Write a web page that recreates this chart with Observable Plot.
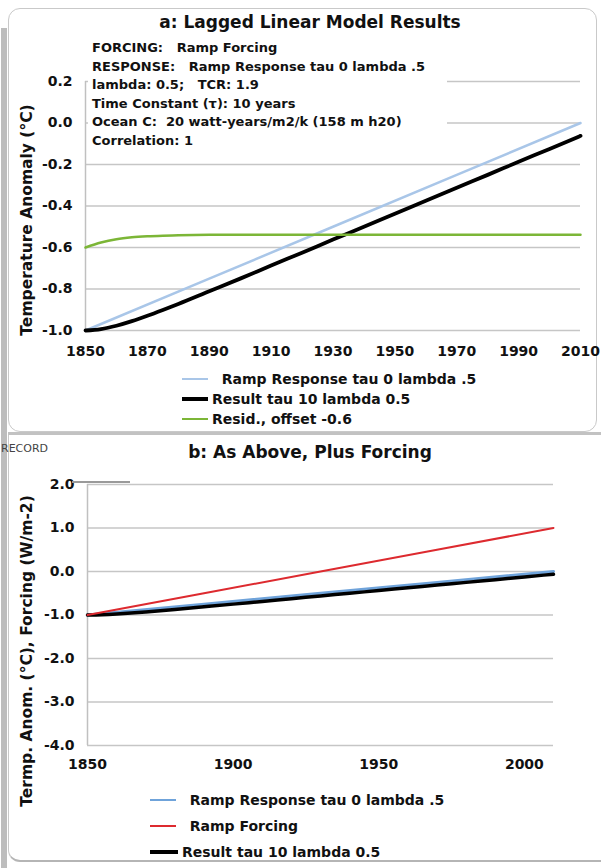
<!DOCTYPE html>
<html>
<head>
<meta charset="utf-8">
<script src="https://cdn.jsdelivr.net/npm/d3@7"></script>
<script src="https://cdn.jsdelivr.net/npm/@observablehq/plot@0.6"></script>
<style>
  html, body { margin: 0; padding: 0; background: #fff; }
  #wrap { position: relative; width: 601px; height: 868px; overflow: hidden; font-family: "DejaVu Sans", Verdana, sans-serif; color: #111; }
  .abs { position: absolute; }
  .title { font-weight: bold; font-size: 17px; text-align: center; line-height: 22px; }
  .box { background: #fff; font-weight: bold; font-size: 13px; line-height: 18.5px; white-space: pre; padding: 0 22px 0 4px; }
  .leg { display: flex; align-items: center; height: 18px; font-weight: bold; font-size: 14px; white-space: pre; }
  .sw { display: inline-block; margin-right: 4px; }
</style>
</head>
<body>
<div id="wrap"></div>
<script>
// ---------- data ----------
const yearsLine = [1850, 1890, 1930, 1970, 2010];
const rampResponse = [-1.0, -0.75, -0.5, -0.25, 0.0];
const rampForcing = [-1.0, -0.5, 0.0, 0.5, 1.0];

const yearsCurve = [1850, 1855, 1860, 1865, 1870, 1875, 1880, 1890, 1900, 1910, 1920, 1930, 1940, 1950, 1960, 1970, 1980, 1990, 2000, 2010];
const resultTau10 = [-1.0, -0.993, -0.977, -0.955, -0.929, -0.901, -0.872, -0.811, -0.75, -0.687, -0.625, -0.562, -0.5, -0.437, -0.375, -0.312, -0.25, -0.187, -0.125, -0.062];
const residOffset = [-0.6, -0.576, -0.560, -0.551, -0.546, -0.543, -0.541, -0.539, -0.538, -0.538, -0.538, -0.538, -0.538, -0.538, -0.538, -0.538, -0.538, -0.538, -0.538, -0.538];

const xTicksA = [1850, 1870, 1890, 1910, 1930, 1950, 1970, 1990, 2010];
const yTicksA = [-1.0, -0.8, -0.6, -0.4, -0.2, 0.0, 0.2];
const xTicksB = [1850, 1900, 1950, 2000];
const yTicksB = [-4, -3, -2, -1, 0, 1, 2];

const titleA = "a: Lagged Linear Model Results";
const titleB = "b: As Above, Plus Forcing";
const yLabelA = "Temperature Anomaly (°C)";
const yLabelB = "Termp. Anom. (°C), Forcing (W/m-2)";
const infoLines = [
  "FORCING:   Ramp Forcing",
  "RESPONSE:   Ramp Response tau 0 lambda .5",
  "lambda: 0.5;   TCR: 1.9",
  "Time Constant (τ): 10 years",
  "Ocean C:  20 watt-years/m2/k (158 m h20)",
  "Correlation: 1"
];
const legendA = ["  Ramp Response tau 0 lambda .5", "Result tau 10 lambda 0.5", "Resid., offset -0.6"];
const legendB = ["  Ramp Response tau 0 lambda .5", "  Ramp Forcing", "Result tau 10 lambda 0.5"];

// ---------- tables ----------
const lineRows = yearsLine.map((y, i) => ({year: y, response: rampResponse[i], forcing: rampForcing[i]}));
const curveRows = yearsCurve.map((y, i) => ({year: y, result: resultTau10[i], resid: residOffset[i]}));

const C = {blueA: "#a9c6e8", blueB: "#6fa3da", black: "#000", green: "#7cb637", red: "#dd2a2f", grid: "#c6c6c6"};
const fmtY = d => d.toFixed(1);
const fmtX = d => String(d);
const font = {fontSize: "14px", fontWeight: "bold", fontFamily: "DejaVu Sans, Verdana, sans-serif", color: "#111", background: "transparent", overflow: "visible"};

const wrap = document.getElementById("wrap");
function add(html) { wrap.insertAdjacentHTML("beforeend", html); }

// frames
add(`<div class="abs" style="left:1px;top:28px;width:6px;height:840px;background:#bdbdbd"></div>`);
add(`<div class="abs" style="left:8px;top:8px;width:589px;height:424px;border:1.5px solid #c9c9c9;border-radius:12px;box-sizing:border-box"></div>`);
add(`<div class="abs" style="left:8px;top:432px;width:600px;height:3px;background:#c2c2c2"></div>`);
add(`<div class="abs" style="left:8px;top:435px;width:600px;height:427px;border-left:1.5px solid #c9c9c9;border-bottom:2px solid #b5b5b5;border-radius:0 0 0 12px;box-sizing:border-box"></div>`);

// ---------- panel a ----------
const plotA = Plot.plot({
  width: 601, height: 370,
  marginTop: 81, marginBottom: 40, marginLeft: 85, marginRight: 21,
  style: font,
  x: {domain: [1850, 2010], ticks: xTicksA, tickFormat: fmtX, tickSize: 0, tickPadding: 16, label: null},
  y: {domain: [-1.0, 0.2], ticks: yTicksA, tickFormat: fmtY, tickSize: 0, tickPadding: 13, label: null},
  marks: [
    Plot.gridY(yTicksA, {stroke: C.grid, strokeOpacity: 1, strokeWidth: 1.5}),
    Plot.ruleX([1850], {stroke: "#c0c0c0", strokeWidth: 1.5}),
    Plot.line(lineRows, {x: "year", y: "response", stroke: C.blueA, strokeWidth: 2.5}),
    Plot.line(curveRows, {x: "year", y: "result", stroke: C.black, strokeWidth: 3.8, curve: "monotone-x"}),
    Plot.line(curveRows, {x: "year", y: "resid", stroke: C.green, strokeWidth: 2.5, curve: "monotone-x"}),
    Plot.text([yLabelA], {frameAnchor: "left", textAnchor: "middle", rotate: -90, dx: -58, dy: 14, fontSize: 15.5, fontWeight: "bold", fill: "#111"})
  ]
});
plotA.style.position = "absolute"; plotA.style.left = "0px"; plotA.style.top = "0px";
wrap.appendChild(plotA);

add(`<div class="abs title" style="left:0;top:11px;width:620px">${titleA}</div>`);
add(`<div class="abs box" style="left:88px;top:39px">${infoLines.join("\n")}</div>`);

const swA = [[C.blueA, 2.5], [C.black, 3.5], [C.green, 2.5]];
legendA.forEach((t, i) => {
  add(`<div class="abs leg" style="left:182px;top:${370 + i * 20}px"><span class="sw" style="width:26px;height:${swA[i][1]}px;background:${swA[i][0]}"></span>${t}</div>`);
});

// ---------- panel b ----------
const plotB = Plot.plot({
  width: 601, height: 340,
  marginTop: 48, marginBottom: 31, marginLeft: 87, marginRight: 48,
  style: font,
  x: {domain: [1850, 2010], ticks: xTicksB, tickFormat: fmtX, tickSize: 0, tickPadding: 14, label: null},
  y: {domain: [-4, 2], ticks: yTicksB, tickFormat: fmtY, tickSize: 0, tickPadding: 13, label: null},
  marks: [
    Plot.gridY(yTicksB, {stroke: C.grid, strokeOpacity: 1, strokeWidth: 1.5}),
    Plot.ruleX([1850], {stroke: "#c0c0c0", strokeWidth: 1.5}),
    Plot.line(lineRows, {x: "year", y: "response", stroke: C.blueB, strokeWidth: 3}),
    Plot.line(curveRows, {x: "year", y: "result", stroke: C.black, strokeWidth: 3.5, curve: "monotone-x"}),
    Plot.line(lineRows, {x: "year", y: "forcing", stroke: C.red, strokeWidth: 2}),
    Plot.text([yLabelB], {frameAnchor: "left", textAnchor: "middle", rotate: -90, dx: -60, dy: 36, fontSize: 15.5, fontWeight: "bold", fill: "#111"})
  ]
});
plotB.style.position = "absolute"; plotB.style.left = "0px"; plotB.style.top = "436px";
wrap.appendChild(plotB);

add(`<div class="abs" style="left:1px;top:442px;font-size:11px;color:#444">RECORD</div>`);
add(`<div class="abs" style="left:72px;top:481px;width:58px;height:1.5px;background:#9a9a9a"></div>`);
add(`<div class="abs title" style="left:0;top:441px;width:620px">${titleB}</div>`);

const swB = [[C.blueB, 2.5], [C.red, 2.5], [C.black, 3.5]];
legendB.forEach((t, i) => {
  add(`<div class="abs leg" style="left:150px;top:${791 + i * 26}px"><span class="sw" style="width:${i === 2 ? 28 : 26}px;height:${swB[i][1]}px;background:${swB[i][0]}"></span>${t}</div>`);
});
</script>
</body>
</html>
